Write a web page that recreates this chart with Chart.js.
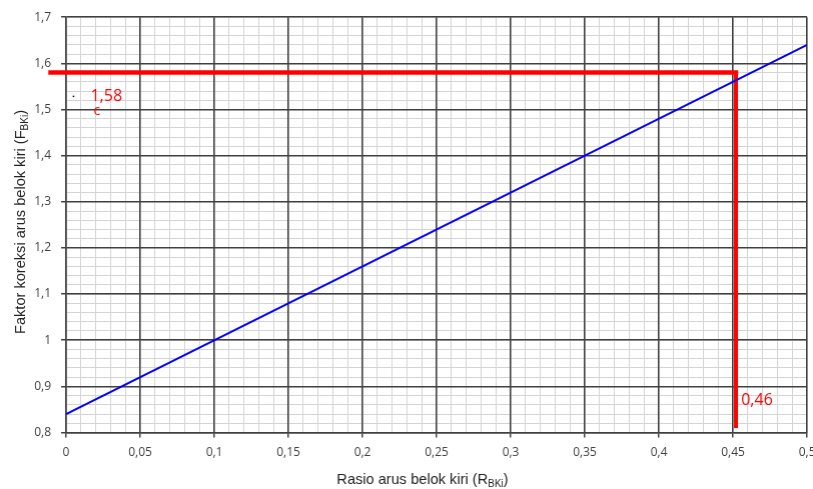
<!DOCTYPE html>
<html>
<head>
<meta charset="utf-8">
<script src="https://cdn.jsdelivr.net/npm/chart.js@4.4.1/dist/chart.umd.min.js"></script>
<style>
  html, body { margin: 0; padding: 0; background: #fff; overflow: hidden; }
  #wrap { width: 822.5px; height: 489px; position: relative; }
</style>
</head>
<body>
<div id="wrap"><canvas id="chart"></canvas></div>
<script>
// axis ranges and grid steps
const xRange = [0, 0.5];
const yRange = [0.8, 1.7];
const xMinorStep = 0.01, xMajorStep = 0.05;
const yMinorStep = 0.02, yMajorStep = 0.1;

// blue correction line
const lineX = [0, 0.5];
const lineY = [0.84, 1.64];

// red reading lines
const readHorizX = [-0.012, 0.4535];
const readHorizY = [1.58, 1.58];
const readVertX = [0.452, 0.452];
const readVertY = [1.58, 0.81];

// red annotations
const readLabels = ["1,58", "0,46"];

function toPoints(xs, ys) {
  return xs.map((x, i) => ({ x: x, y: ys[i] }));
}

function fmt(v) {
  return String(Math.round(v * 100) / 100).replace(".", ",");
}

const majorColor = "#404040";
const minorColor = "#d4d4d4";

// axis titles with subscripts + red labels
const textPlugin = {
  id: "texts",
  afterDraw(chart) {
    const ctx = chart.ctx;
    const xs = chart.scales.x, ys = chart.scales.y;
    ctx.save();

    function drawSub(parts, cx, cy) {
      const big = '14.6px "Liberation Sans", Arial, sans-serif';
      const small = '10px "Liberation Sans", Arial, sans-serif';
      ctx.font = big;
      const w1 = ctx.measureText(parts[0]).width;
      const w3 = ctx.measureText(parts[2]).width;
      ctx.font = small;
      const w2 = ctx.measureText(parts[1]).width;
      let x = cx - (w1 + w2 + w3) / 2;
      ctx.fillStyle = "#222";
      ctx.textBaseline = "alphabetic";
      ctx.textAlign = "left";
      ctx.font = big;
      ctx.fillText(parts[0], x, cy);
      x += w1;
      ctx.font = small;
      ctx.fillText(parts[1], x, cy + 3);
      x += w2;
      ctx.font = big;
      ctx.fillText(parts[2], x, cy);
    }

    drawSub(["Rasio arus belok kiri (R", "BKi", ")"], 422, 484);

    ctx.save();
    ctx.translate(25, 222);
    ctx.rotate(-Math.PI / 2);
    drawSub(["Faktor koreksi arus belok kiri (F", "BKi", ")"], 0, 0);
    ctx.restore();

    // red reading labels
    ctx.fillStyle = "#ff0000";
    ctx.font = '16px "Open Sans", sans-serif';
    ctx.textAlign = "left";
    ctx.textBaseline = "middle";
    ctx.fillText(readLabels[0], xs.getPixelForValue(0.0165), ys.getPixelForValue(1.528));
    ctx.fillText(readLabels[1], xs.getPixelForValue(0.4555), ys.getPixelForValue(0.87));
    ctx.font = '14px "Open Sans", sans-serif';
    ctx.fillText("c", xs.getPixelForValue(0.0185), ys.getPixelForValue(1.497));
    ctx.fillStyle = "#000";
    ctx.fillRect(xs.getPixelForValue(0.0045), ys.getPixelForValue(1.53), 1.5, 1.5);

    ctx.restore();
  }
};

// minor grid axes (drawn first, no labels)
function minorAxis(pos, range, step) {
  return {
    type: "linear",
    position: pos,
    min: range[0],
    max: range[1],
    z: -2,
    ticks: { stepSize: step, autoSkip: false, display: false },
    grid: { color: minorColor, lineWidth: 1, drawTicks: false },
    border: { display: false },
  };
}

// major grid axes with labels (drawn on top of minor ones)
function majorAxis(pos, range, step, pad) {
  return {
    type: "linear",
    position: pos,
    min: range[0],
    max: range[1],
    z: -1,
    ticks: {
      stepSize: step,
      autoSkip: false,
      maxRotation: 0,
      padding: pad,
      color: "#404040",
      font: { family: "'Open Sans', sans-serif", size: 12 },
      callback: (v) => fmt(v),
    },
    grid: { color: majorColor, lineWidth: 1.5, tickColor: majorColor, tickLength: 5 },
    border: { color: majorColor, width: 1.5 },
  };
}

new Chart(document.getElementById("chart"), {
  type: "scatter",
  data: {
    datasets: [
      {
        data: toPoints(lineX, lineY),
        showLine: true,
        borderColor: "#0000ff",
        borderWidth: 2,
        pointRadius: 0,
      },
      {
        data: toPoints(readHorizX, readHorizY),
        showLine: true,
        borderColor: "#ff0000",
        borderWidth: 4.5,
        pointRadius: 0,
        clip: false,
      },
      {
        data: toPoints(readVertX, readVertY),
        showLine: true,
        borderColor: "#ff0000",
        borderWidth: 4,
        pointRadius: 0,
        clip: false,
      },
    ],
  },
  plugins: [textPlugin],
  options: {
    responsive: true,
    maintainAspectRatio: false,
    animation: false,
    layout: { padding: { left: 24.2, top: 10.6, right: 0, bottom: 21.1 } },
    plugins: { legend: { display: false }, tooltip: { enabled: false } },
    scales: {
      xMinor: minorAxis("bottom", xRange, xMinorStep),
      yMinor: minorAxis("left", yRange, yMinorStep),
      x: majorAxis("bottom", xRange, xMajorStep, 8),
      y: majorAxis("left", yRange, yMajorStep, 10),
    },
  },
});
</script>
</body>
</html>
